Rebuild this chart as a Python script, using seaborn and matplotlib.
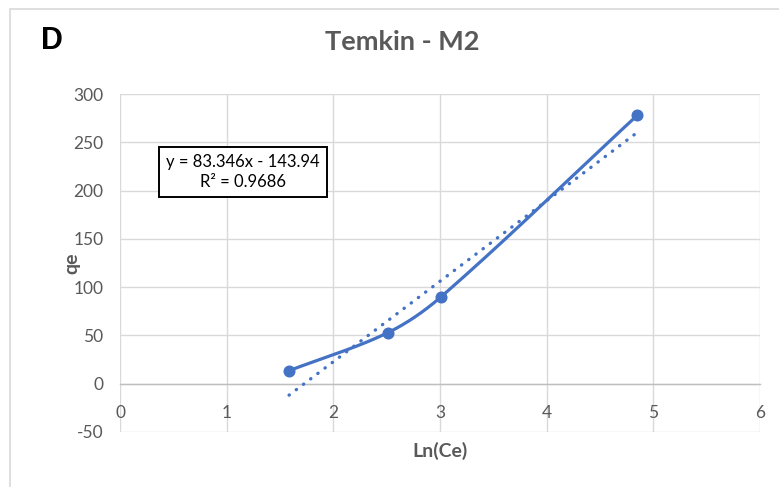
import numpy as np
import pandas as pd
import matplotlib
matplotlib.use("Agg")
import matplotlib.pyplot as plt
from matplotlib.patches import Rectangle
import seaborn as sns

# Temkin isotherm data, model M2
ln_ce = [1.585, 2.51, 3.01, 4.85]
qe = [13.5, 52.8, 90.0, 278.0]
slope, intercept = 83.346, -143.94
r_squared = 0.9686
x_ticks = [0, 1, 2, 3, 4, 5, 6]
y_ticks = [-50, 0, 50, 100, 150, 200, 250, 300]

sns.set_theme(style="white")
plt.rcParams["font.family"] = ["Lato", "DejaVu Sans"]
plt.rcParams["axes.unicode_minus"] = False

BLUE = "#4472C4"
GRAY = "#595959"
GRID = "#D9D9D9"

fig = plt.figure(figsize=(7.79, 4.87), dpi=100)
fig.patches.append(Rectangle((10 / 779, -0.1), 1.2, 1 - 9 / 487 + 0.1,
                             transform=fig.transFigure, fill=False,
                             edgecolor="#D9D9D9", linewidth=1.2))
ax = fig.add_axes([120 / 779, 1 - 432 / 487, 640 / 779, 338 / 487])
ax.set_xlim(0, 6)
ax.set_ylim(-50, 300)


def smooth_curve(xs, ys, ax, n=60):
    """Cubic Bezier smoothing through the points, tangents scaled by chord length
    (computed in display space so both axes count equally)."""
    pts = ax.transData.transform(np.column_stack([xs, ys]).astype(float))
    ext = np.vstack([pts[0], pts, pts[-1]])
    out = []
    for i in range(1, len(ext) - 2):
        p0, p1, p2, p3 = ext[i - 1], ext[i], ext[i + 1], ext[i + 2]
        d01 = np.linalg.norm(p1 - p0)
        d12 = np.linalg.norm(p2 - p1)
        d23 = np.linalg.norm(p3 - p2)
        c1 = p1 + (p2 - p0) * d12 / (3 * max(d01 + d12, 1e-9))
        c2 = p2 - (p3 - p1) * d12 / (3 * max(d12 + d23, 1e-9))
        t = np.linspace(0, 1, n)[:, None]
        seg = ((1 - t) ** 3) * p1 + 3 * ((1 - t) ** 2) * t * c1 \
            + 3 * (1 - t) * t ** 2 * c2 + t ** 3 * p2
        out.append(seg if i == 1 else seg[1:])
    return ax.transData.inverted().transform(np.vstack(out))


curve = smooth_curve(ln_ce, qe, ax)
curve_df = pd.DataFrame({"x": curve[:, 0], "y": curve[:, 1]})
sns.lineplot(data=curve_df, x="x", y="y", ax=ax, color=BLUE, linewidth=2.3,
             sort=False, estimator=None, zorder=3)
sns.scatterplot(x=ln_ce, y=qe, ax=ax, color=BLUE, s=75, edgecolor=BLUE,
                linewidth=0, zorder=4)

trend_x = np.array([min(ln_ce), max(ln_ce)])
trend_df = pd.DataFrame({"x": trend_x, "y": slope * trend_x + intercept})
sns.lineplot(data=trend_df, x="x", y="y", ax=ax, color=BLUE, linewidth=2.4,
             linestyle=(0, (0.1, 2.6)), dash_capstyle="round", zorder=3)

ax.set_xlim(0, 6)
ax.set_ylim(-50, 300)
ax.set_xticks(x_ticks)
ax.set_yticks(y_ticks)
ax.grid(True, color=GRID, linewidth=1.0)
ax.set_axisbelow(True)

for side in ["top", "right", "left"]:
    ax.spines[side].set_visible(False)
ax.spines["bottom"].set_position(("data", 0))
ax.spines["bottom"].set_color("#BFBFBF")
ax.spines["bottom"].set_linewidth(1.0)
ax.tick_params(axis="x", length=0, pad=15, labelsize=12.5, labelcolor=GRAY)
ax.tick_params(axis="y", length=0, pad=12, labelsize=12.5, labelcolor=GRAY)

ax.set_xlabel("")
ax.set_ylabel("")
fig.text(440 / 779, 1 - 451 / 487, "Ln(Ce)", ha="center", va="center",
         fontsize=14, fontweight="bold", color=GRAY)
fig.text(72 / 779, 1 - 263 / 487, "qe", ha="center", va="center",
         rotation=90, fontsize=14, fontweight="bold", color=GRAY)
fig.text(402 / 779, 1 - 42 / 487, "Temkin - M2", ha="center", va="center",
         fontsize=19.5, fontweight="bold", color=GRAY)
fig.text(52 / 779, 1 - 41 / 487, "D", ha="center", va="center",
         fontsize=22, fontweight="bold", color="black",
         family=["Liberation Sans", "DejaVu Sans"])

eq = f"y = {slope}x - {abs(intercept)}\nR\u00b2 = {r_squared}"
fig.text(243 / 779, 1 - 172 / 487, eq, ha="center", va="center",
         fontsize=12, color="black", linespacing=1.25,
         bbox=dict(boxstyle="square,pad=0.45", facecolor="white",
                   edgecolor="black", linewidth=1.4))

fig.savefig("out.png", dpi=100)
